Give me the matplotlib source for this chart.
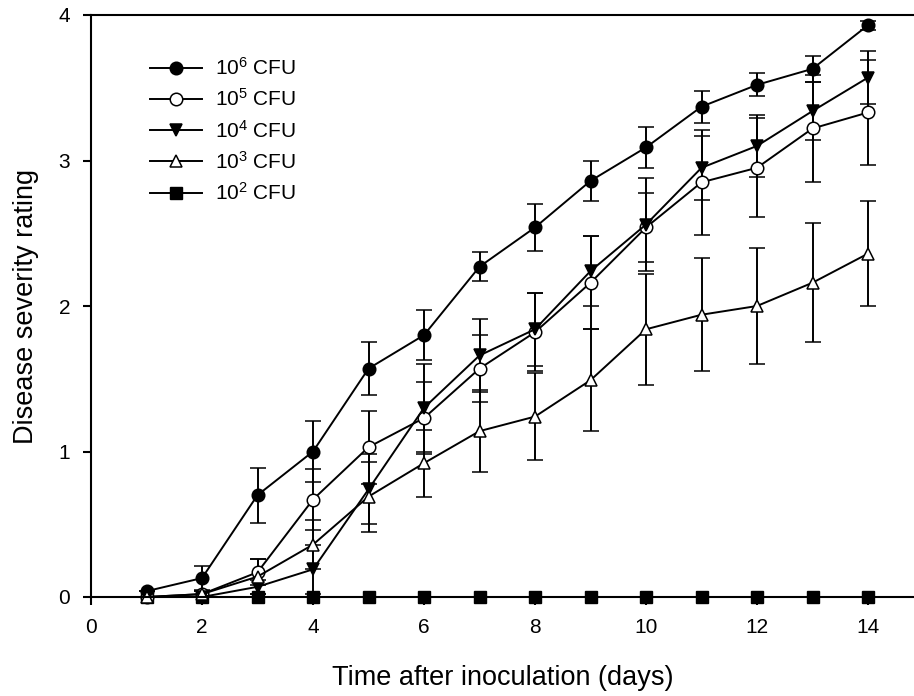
import numpy as np
import matplotlib
matplotlib.use("Agg")
import matplotlib.pyplot as plt

plt.rcParams['font.family'] = ['Liberation Sans', 'DejaVu Sans']
plt.rcParams['mathtext.fontset'] = 'custom'
plt.rcParams['mathtext.rm'] = 'Liberation Sans'
plt.rcParams['mathtext.it'] = 'Liberation Sans:italic'

days = np.arange(1, 15)

# mean disease severity per inoculum dose, with error bars
cfu6 = [0.04, 0.13, 0.70, 1.00, 1.57, 1.80, 2.27, 2.54, 2.86, 3.09, 3.37, 3.52, 3.63, 3.93]
cfu6_err = [0.0, 0.08, 0.19, 0.21, 0.18, 0.17, 0.10, 0.16, 0.14, 0.14, 0.11, 0.08, 0.09, 0.03]

cfu5 = [0.0, 0.02, 0.17, 0.67, 1.03, 1.23, 1.57, 1.82, 2.16, 2.54, 2.85, 2.95, 3.22, 3.33]
cfu5_err = [0.0, 0.02, 0.09, 0.21, 0.25, 0.25, 0.23, 0.27, 0.32, 0.24, 0.36, 0.34, 0.37, 0.36]

cfu4 = [0.0, 0.0, 0.07, 0.19, 0.74, 1.30, 1.66, 1.84, 2.24, 2.56, 2.95, 3.10, 3.34, 3.57]
cfu4_err = [0.0, 0.0, 0.05, 0.17, 0.24, 0.30, 0.25, 0.25, 0.24, 0.32, 0.22, 0.21, 0.20, 0.18]

cfu3 = [0.0, 0.02, 0.14, 0.36, 0.69, 0.92, 1.14, 1.24, 1.49, 1.84, 1.94, 2.00, 2.16, 2.36]
cfu3_err = [0.0, 0.02, 0.12, 0.17, 0.24, 0.23, 0.28, 0.30, 0.35, 0.38, 0.39, 0.40, 0.41, 0.36]

cfu2 = [0.0] * 14

labels = [r'10$^6$ CFU', r'10$^5$ CFU', r'10$^4$ CFU', r'10$^3$ CFU', r'10$^2$ CFU']

fig = plt.figure(figsize=(9.14, 6.96), dpi=100)
ax = fig.add_axes([91 / 914, 99 / 696, 823 / 914, 582 / 696])

style = dict(color='black', lw=1.4, ms=9, elinewidth=1.4, capsize=6,
             capthick=1.4, mec='black', mew=1.1, clip_on=False)

e6 = ax.errorbar(days, cfu6, yerr=cfu6_err, marker='o', mfc='black', **style)
e5 = ax.errorbar(days, cfu5, yerr=cfu5_err, marker='o', mfc='white', **style)
e4 = ax.errorbar(days, cfu4, yerr=cfu4_err, marker='v', mfc='black', **style)
e3 = ax.errorbar(days, cfu3, yerr=cfu3_err, marker='^', mfc='white', **style)
l2, = ax.plot(days, cfu2, marker='s', color='black', lw=1.4, ms=9, mfc='black', clip_on=False)

ax.set_xlim(0, 823 / 55.5)
ax.set_ylim(0, 4)
ax.set_xticks(np.arange(0, 15, 2))
ax.set_yticks(np.arange(0, 5, 1))
ax.spines['right'].set_visible(False)
for s in ax.spines.values():
    s.set_linewidth(1.5)
ax.tick_params(direction='out', length=6, width=1.5, labelsize=15, pad=9)

ax.set_xlabel('Time after inoculation (days)', fontsize=19.5, labelpad=20)
ax.set_ylabel('Disease severity rating', fontsize=19.5, labelpad=14)

# legend uses the plain marker lines, no error bar glyphs
handles = [e6.lines[0], e5.lines[0], e4.lines[0], e3.lines[0], l2]
ax.legend(handles, labels, loc='upper left', bbox_to_anchor=(150 / 914, 1 - 57 / 696),
          bbox_transform=fig.transFigure, frameon=False, fontsize=15,
          handlelength=2.5, labelspacing=0.45, handletextpad=0.6, borderpad=0,
          borderaxespad=0)

plt.savefig('out.png', dpi=100)
